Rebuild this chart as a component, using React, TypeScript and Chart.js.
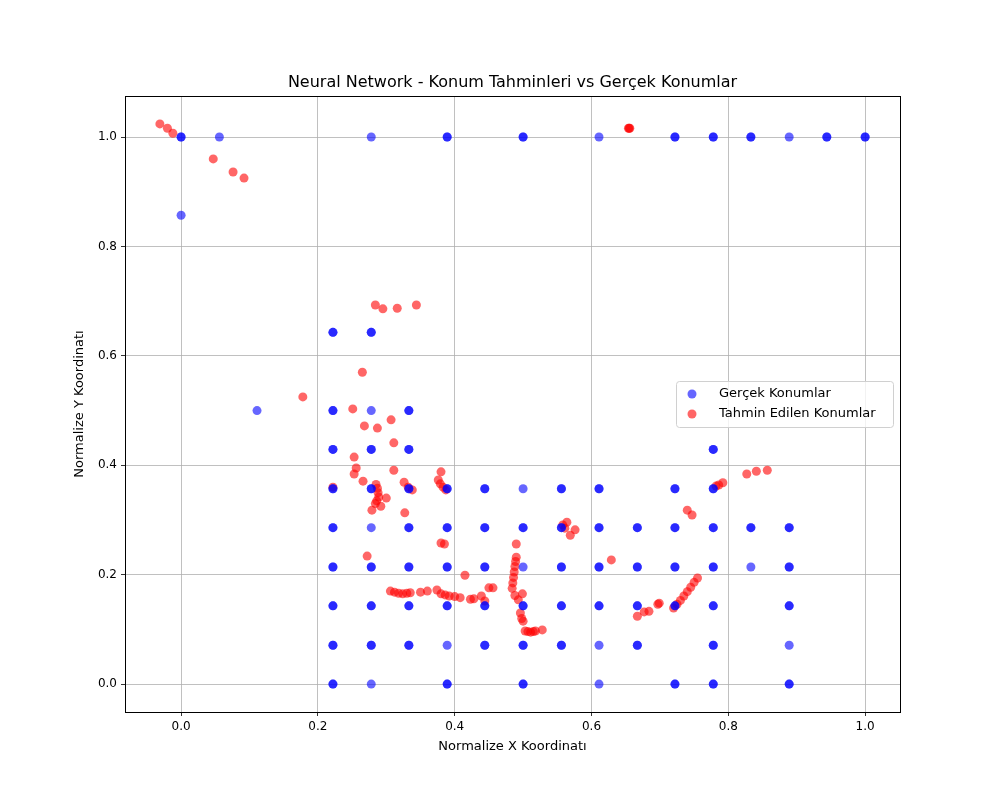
import { useEffect, useRef } from 'react';
import { Chart, registerables } from 'chart.js';

Chart.register(...registerables);

// actual positions (grid of 1/18 in x, 1/14 in y)
const actualX = [
  0, 0.056, 0.278, 0.389, 0.5, 0.611, 0.722, 0.778, 0.833, 0.889, 0.944, 1.0,
  0,
  0.222, 0.278,
  0.111, 0.222, 0.278, 0.333,
  0.222, 0.278, 0.333, 0.778,
  0.222, 0.278, 0.333, 0.389, 0.444, 0.5, 0.556, 0.611, 0.722, 0.778,
  0.222, 0.278, 0.333, 0.389, 0.444, 0.5, 0.556, 0.611, 0.667, 0.722, 0.778, 0.833, 0.889,
  0.222, 0.278, 0.333, 0.389, 0.444, 0.5, 0.556, 0.611, 0.667, 0.722, 0.778, 0.833, 0.889,
  0.222, 0.278, 0.333, 0.389, 0.444, 0.5, 0.556, 0.611, 0.667, 0.722, 0.778, 0.889,
  0.222, 0.278, 0.333, 0.389, 0.444, 0.5, 0.556, 0.611, 0.667, 0.778, 0.889,
  0.222, 0.278, 0.389, 0.5, 0.611, 0.722, 0.778, 0.889,
];
const actualY = [
  1, 1, 1, 1, 1, 1, 1, 1, 1, 1, 1, 1,
  0.857,
  0.643, 0.643,
  0.5, 0.5, 0.5, 0.5,
  0.429, 0.429, 0.429, 0.429,
  0.357, 0.357, 0.357, 0.357, 0.357, 0.357, 0.357, 0.357, 0.357, 0.357,
  0.286, 0.286, 0.286, 0.286, 0.286, 0.286, 0.286, 0.286, 0.286, 0.286, 0.286, 0.286, 0.286,
  0.214, 0.214, 0.214, 0.214, 0.214, 0.214, 0.214, 0.214, 0.214, 0.214, 0.214, 0.214, 0.214,
  0.143, 0.143, 0.143, 0.143, 0.143, 0.143, 0.143, 0.143, 0.143, 0.143, 0.143, 0.143,
  0.071, 0.071, 0.071, 0.071, 0.071, 0.071, 0.071, 0.071, 0.071, 0.071, 0.071,
  0, 0, 0, 0, 0, 0, 0, 0,
];
// indices of actual positions that appear only once (lighter dots); the rest repeat
const singleIdx = [1, 2, 5, 9, 12, 15, 17, 34, 51, 28, 57, 74, 78, 81, 83, 86];

// predicted positions
const predX = [
  -0.031, -0.02, -0.012, 0.047, 0.076, 0.092, 0.654, 0.655, 0.656,
  0.178, 0.284, 0.295, 0.316, 0.344, 0.265, 0.251, 0.268, 0.287, 0.307,
  0.253, 0.256, 0.253, 0.311, 0.311, 0.266, 0.222,
  0.285, 0.287, 0.288, 0.289, 0.286, 0.284, 0.279, 0.3, 0.292,
  0.326, 0.332, 0.338, 0.327, 0.272,
  0.38, 0.376, 0.379, 0.383, 0.387, 0.38, 0.385,
  0.306, 0.312, 0.318, 0.324, 0.33, 0.335, 0.35, 0.36,
  0.374, 0.38, 0.386, 0.392, 0.4, 0.408, 0.415, 0.423, 0.428,
  0.439, 0.444, 0.45, 0.456,
  0.484, 0.485, 0.486, 0.487, 0.488, 0.489, 0.49, 0.49, 0.488,
  0.493, 0.499, 0.496, 0.498, 0.5, 0.503, 0.507, 0.511, 0.515, 0.518, 0.528,
  0.558, 0.564, 0.561, 0.569, 0.576, 0.629,
  0.667, 0.677, 0.684, 0.697, 0.699,
  0.72, 0.725, 0.73, 0.735, 0.74, 0.745, 0.75, 0.755,
  0.74, 0.747, 0.782, 0.786, 0.792, 0.827, 0.841, 0.857,
];
const predY = [
  1.024, 1.016, 1.007, 0.96, 0.936, 0.925, 1.016, 1.016, 1.016,
  0.525, 0.693, 0.686, 0.687, 0.693, 0.57, 0.503, 0.472, 0.468, 0.483,
  0.415, 0.395, 0.384, 0.441, 0.391, 0.371, 0.36,
  0.365, 0.358, 0.35, 0.342, 0.335, 0.33, 0.318, 0.34, 0.325,
  0.369, 0.36, 0.355, 0.313, 0.234,
  0.388, 0.373, 0.366, 0.36, 0.355, 0.258, 0.256,
  0.17, 0.168, 0.166, 0.165, 0.166, 0.167, 0.168, 0.17,
  0.172, 0.165, 0.163, 0.161, 0.16, 0.158, 0.199, 0.155, 0.156,
  0.161, 0.152, 0.176, 0.176,
  0.175, 0.185, 0.195, 0.205, 0.215, 0.224, 0.232, 0.256, 0.162,
  0.154, 0.165, 0.13, 0.12, 0.115, 0.097, 0.096, 0.095, 0.096, 0.097, 0.099,
  0.291, 0.296, 0.285, 0.272, 0.282, 0.227,
  0.124, 0.132, 0.133, 0.146, 0.148,
  0.139, 0.146, 0.153, 0.161, 0.169, 0.177, 0.186, 0.194,
  0.318, 0.309, 0.362, 0.364, 0.368, 0.384, 0.389, 0.391,
];

const xTicks = [0, 0.2, 0.4, 0.6, 0.8, 1.0];
const yTicks = [0, 0.2, 0.4, 0.6, 0.8, 1.0];

const FONT = 'DejaVu Sans';

const overlay = {
  id: 'overlay',
  afterDraw(chart: Chart) {
    const { ctx, chartArea } = chart;
    ctx.save();
    // frame
    ctx.strokeStyle = '#000';
    ctx.lineWidth = 1;
    ctx.strokeRect(Math.round(chartArea.left) + 0.5, Math.round(chartArea.top) + 0.5,
      Math.round(chartArea.right - chartArea.left), Math.round(chartArea.bottom - chartArea.top));
    ctx.fillStyle = '#000';
    ctx.font = `16px "${FONT}"`;
    ctx.textAlign = 'center';
    ctx.textBaseline = 'bottom';
    ctx.fillText('Neural Network - Konum Tahminleri vs Gerçek Konumlar', (chartArea.left + chartArea.right) / 2, chartArea.top - 5);
    // axis titles
    ctx.font = `13px "${FONT}"`;
    ctx.textBaseline = 'middle';
    ctx.fillText('Normalize X Koordinatı', (chartArea.left + chartArea.right) / 2, 747);
    ctx.save();
    ctx.translate(80, (chartArea.top + chartArea.bottom) / 2);
    ctx.rotate(-Math.PI / 2);
    ctx.fillText('Normalize Y Koordinatı', 0, 0);
    ctx.restore();
    // legend
    const lx = 676, ly = 381, lw = 217, lh = 46;
    ctx.fillStyle = 'rgba(255,255,255,0.8)';
    ctx.strokeStyle = '#d0d0d0';
    ctx.beginPath();
    ctx.roundRect(lx + 0.5, ly + 0.5, lw, lh, 3);
    ctx.fill();
    ctx.stroke();
    const items = [['Gerçek Konumlar', 'rgba(0,0,255,0.6)'], ['Tahmin Edilen Konumlar', 'rgba(255,0,0,0.6)']];
    ctx.font = `13px "${FONT}"`;
    ctx.textAlign = 'left';
    items.forEach(([t, c], i) => {
      const y = ly + 13 + i * 20;
      ctx.fillStyle = c;
      ctx.beginPath();
      ctx.arc(lx + 16, y, 4.5, 0, Math.PI * 2);
      ctx.fill();
      ctx.fillStyle = '#000';
      ctx.fillText(t, lx + 43, y);
    });
    ctx.restore();
  },
};

export default function App() {
  const chartRef = useRef<HTMLCanvasElement>(null);
  const chartInstance = useRef<Chart | null>(null);

  useEffect(() => {
    if (!chartRef.current) return;
    if (chartInstance.current) chartInstance.current.destroy();

    const axis = (ticks: number[], min: number, max: number, isX: boolean) => ({
      type: 'linear' as const,
      min,
      max,
      afterBuildTicks: (s: any) => { s.ticks = ticks.map(v => ({ value: v })); },
      afterFit: (s: any) => {
        if (isX) s.height = 88; else s.width = 125;
      },
      ticks: {
        color: '#000',
        font: { family: FONT, size: 12 },
        callback: (v: any) => Number(v).toFixed(1),
        padding: 4,
        maxRotation: 0,
      },
      grid: { color: '#b0b0b0', lineWidth: 0.8, tickColor: '#000', tickLength: 4 },
      border: { color: '#000', width: 1 },
    });

    const actual = actualX.map((x, i) => ({ x, y: actualY[i] }));
    const repeated = actual.filter((_, i) => !singleIdx.includes(i));

    chartInstance.current = new Chart(chartRef.current, {
      type: 'scatter',
      data: {
        datasets: [
          {
            label: 'Gerçek Konumlar',
            data: [...actual, ...repeated],
            backgroundColor: 'rgba(0,0,255,0.6)',
            borderWidth: 0,
            pointRadius: 4.5,
          },
          {
            label: 'Tahmin Edilen Konumlar',
            data: predX.map((x, i) => ({ x, y: predY[i] })),
            backgroundColor: 'rgba(255,0,0,0.6)',
            borderWidth: 0,
            pointRadius: 4.5,
          },
        ],
      },
      options: {
        animation: false,
        responsive: false,
        layout: { padding: { top: 96, right: 100, left: 0, bottom: 0 } },
        plugins: { legend: { display: false }, title: { display: false }, tooltip: { enabled: false } },
        scales: {
          x: axis(xTicks, -0.082, 1.051, true),
          y: axis(yTicks, -0.051, 1.075, false),
        },
      },
      plugins: [overlay],
    });

    return () => {
      if (chartInstance.current) chartInstance.current.destroy();
    };
  }, []);

  return (
    <div style={{ position: 'absolute', left: 0, top: 0, width: 1000, height: 800, background: '#fff' }}>
      <canvas ref={chartRef} width={1000} height={800} />
    </div>
  );
}
